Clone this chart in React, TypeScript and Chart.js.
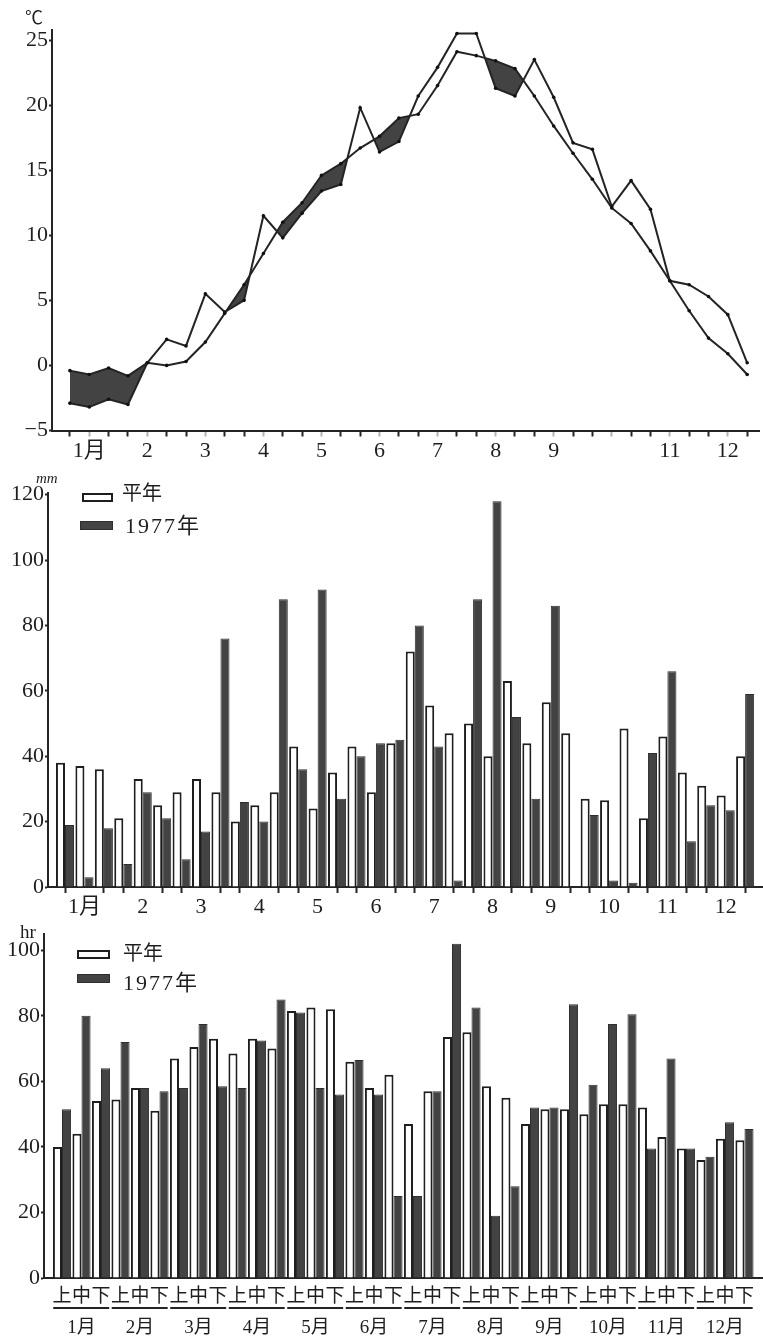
import React, { useEffect, useRef } from 'react';
import { Chart, registerables } from 'chart.js';

Chart.register(...registerables);

const FONT = "'Liberation Serif', 'Noto Sans CJK JP', serif";
const INK = '#242424';
const DARK = '#434343';

// 36 dekads: 上旬・中旬・下旬 of each month
const dekadParts = ['上', '中', '下'];
const monthNames = ['1月', '2月', '3月', '4月', '5月', '6月', '7月', '8月', '9月', '10月', '11月', '12月'];
const dekadIdx = monthNames.flatMap((_, m) => dekadParts.map((__, d) => m * 3 + d));

// Top panel: mean temperature (℃)
const tempMonthLabels = ['1月', '2', '3', '4', '5', '6', '7', '8', '9', '', '11', '12'];
const tempTicks = [-5, 0, 5, 10, 15, 20, 25];
const tempNormal = [
  -0.4, -0.7, -0.2, -0.8, 0.2, 0.0, 0.3, 1.8, 4.0, 6.2, 8.6, 11.0,
  12.5, 14.6, 15.5, 16.7, 17.6, 19.0, 19.3, 21.5, 24.1, 23.8, 23.4, 22.8,
  20.7, 18.4, 16.3, 14.3, 12.1, 10.9, 8.8, 6.5, 4.2, 2.1, 0.9, -0.7,
];
const temp1977 = [
  -2.9, -3.2, -2.6, -3.0, 0.2, 2.0, 1.5, 5.5, 4.1, 5.0, 11.5, 9.8,
  11.7, 13.4, 13.9, 19.8, 16.4, 17.2, 20.7, 22.9, 25.5, 25.5, 21.3, 20.7,
  23.5, 20.6, 17.1, 16.6, 12.2, 14.2, 12.0, 6.5, 6.2, 5.3, 3.9, 0.2,
];

// Middle panel: precipitation (mm)
const precipMonthLabels = ['1月', '2', '3', '4', '5', '6', '7', '8', '9', '10', '11', '12'];
const precipTicks = [0, 20, 40, 60, 80, 100, 120];
const precipNormal = [
  38, 37, 36, 21, 33, 25, 29, 33, 29, 20, 25, 29,
  43, 24, 35, 43, 29, 44, 72, 55.5, 47, 50, 40, 63,
  44, 56.5, 47, 27, 26.5, 48.5, 21, 46, 35, 31, 28, 40,
];
const precip1977 = [
  19, 3, 18, 7, 29, 21, 8.5, 17, 76, 26, 20, 88,
  36, 91, 27, 40, 44, 45, 80, 43, 2, 88, 118, 52,
  27, 86, 0, 22, 2, 1.3, 41, 66, 14, 25, 23.5, 59,
];

// Bottom panel: sunshine duration (hr)
const sunTicks = [0, 20, 40, 60, 80, 100];
const sunNormal = [
  40, 44, 54, 54.5, 58, 51, 67, 70.5, 73, 68.5, 73, 70,
  81.5, 82.5, 82, 66, 58, 62, 47, 57, 73.5, 75, 58.5, 55,
  47, 51.5, 51.5, 50, 53, 53, 52, 43, 39.5, 36, 42.5, 42,
];
const sun1977 = [
  51.5, 80, 64, 72, 58, 57, 58, 77.5, 58.5, 58, 72.5, 85,
  81, 58, 56, 66.5, 56, 25, 25, 57, 102, 82.5, 19, 28,
  52, 52, 83.5, 59, 77.5, 80.5, 39.5, 67, 39.5, 37, 47.5, 45.5,
];

const seriesNames = ['平年', '1977年'];

const toXY = (arr: number[]) => arr.map((v, i) => ({ x: dekadIdx[i], y: v }));

const setTicks = (vals: number[]) => (scale: any) => {
  scale.ticks = vals.map((v) => ({ value: v }));
};

const yAxis = (min: number, max: number, ticks: number[], width: number, fmt?: (v: number) => string) => ({
  type: 'linear' as const,
  min,
  max,
  afterBuildTicks: setTicks(ticks),
  afterFit: (s: any) => {
    s.width = width;
  },
  grid: { drawOnChartArea: false, drawTicks: true, tickLength: 3, tickWidth: 2, tickColor: INK },
  border: { display: true, color: INK, width: 2 },
  ticks: {
    padding: 1,
    color: '#1e1e1e',
    font: { family: FONT, size: 22 },
    callback: (v: any) => (fmt ? fmt(Number(v)) : String(v)),
  },
});

const barStyle = (i: number) =>
  i === 0
    ? {
        backgroundColor: '#ffffff',
        borderColor: '#1e1e1e',
        borderWidth: { top: 2, left: 2, right: 2, bottom: 0 },
        borderSkipped: 'start' as const,
      }
    : { backgroundColor: DARK, borderColor: '#2e2e2e', borderWidth: 1 };

function TempChart() {
  const ref = useRef<HTMLCanvasElement>(null);
  useEffect(() => {
    const chart = new Chart(ref.current as HTMLCanvasElement, {
      type: 'line',
      data: {
        datasets: [
          {
            label: seriesNames[0],
            data: toXY(tempNormal),
            borderColor: INK,
            borderWidth: 2,
            pointRadius: 1.8,
            pointBackgroundColor: '#111',
            pointBorderWidth: 0,
            fill: false,
            tension: 0,
          },
          {
            label: seriesNames[1],
            data: toXY(temp1977),
            borderColor: INK,
            borderWidth: 2,
            pointRadius: 1.8,
            pointBackgroundColor: '#111',
            pointBorderWidth: 0,
            tension: 0,
            fill: { target: '-1', above: 'rgba(0,0,0,0)', below: DARK },
          },
        ],
      },
      options: {
        responsive: false,
        animation: false,
        layout: { padding: { top: 30, left: 0, right: 0, bottom: 0 } },
        plugins: { legend: { display: false }, tooltip: { enabled: false } },
        scales: {
          x: {
            type: 'linear',
            min: -0.925,
            max: 35.61,
            afterBuildTicks: setTicks(dekadIdx),
            afterFit: (s: any) => {
              s.height = 39.5;
            },
            grid: {
              drawOnChartArea: false,
              drawTicks: true,
              tickLength: 6,
              tickWidth: 2,
              tickColor: (c: any) => (c.index % 3 === 1 ? 'rgba(40,40,40,0.35)' : INK),
            },
            border: { display: true, color: INK, width: 2 },
            ticks: {
              autoSkip: false,
              maxRotation: 0,
              padding: 2,
              color: '#1e1e1e',
              font: { family: FONT, size: 22 },
              callback: (_v: any, i: number) => (i % 3 === 1 ? tempMonthLabels[(i - 1) / 3] : ''),
            },
          },
          y: yAxis(-5, 25.77, tempTicks, 52, (v) => (v < 0 ? '−' + Math.abs(v) : String(v))),
        },
      },
    } as any);
    return () => chart.destroy();
  }, []);
  return <canvas ref={ref} width={763} height={470} style={{ position: 'absolute', left: 0, top: 0 }} />;
}

function PrecipChart() {
  const ref = useRef<HTMLCanvasElement>(null);
  useEffect(() => {
    const chart = new Chart(ref.current as HTMLCanvasElement, {
      type: 'bar',
      data: {
        datasets: [
          { label: seriesNames[0], data: toXY(precipNormal), ...barStyle(0), categoryPercentage: 0.93, barPercentage: 1 },
          { label: seriesNames[1], data: toXY(precip1977), ...barStyle(1), categoryPercentage: 0.93, barPercentage: 1 },
        ],
      },
      options: {
        responsive: false,
        animation: false,
        layout: { padding: { top: 23, left: 0, right: 0, bottom: 0 } },
        plugins: { legend: { display: false }, tooltip: { enabled: false } },
        scales: {
          x: {
            type: 'linear',
            offset: false,
            min: -0.875,
            max: 35.92,
            afterBuildTicks: setTicks(dekadIdx),
            afterFit: (s: any) => {
              s.height = 33;
            },
            grid: {
              offset: false,
              drawOnChartArea: false,
              drawTicks: true,
              tickLength: 6,
              tickWidth: 2,
              tickColor: (c: any) => (c.index % 3 === 1 ? 'rgba(0,0,0,0)' : INK),
            },
            border: { display: true, color: INK, width: 2 },
            ticks: {
              autoSkip: false,
              maxRotation: 0,
              padding: 1,
              color: '#1e1e1e',
              font: { family: FONT, size: 22 },
              callback: (_v: any, i: number) => (i % 3 === 1 ? precipMonthLabels[(i - 1) / 3] : ''),
            },
          },
          y: yAxis(0, 120.5, precipTicks, 48),
        },
      },
    } as any);
    return () => chart.destroy();
  }, []);
  return <canvas ref={ref} width={763} height={450} style={{ position: 'absolute', left: 0, top: 470 }} />;
}

const monthUnderline = {
  id: 'monthUnderline',
  afterDraw(chart: any) {
    const xs = chart.scales.x;
    const ctx = chart.ctx;
    const y = xs.top + 30;
    ctx.save();
    ctx.strokeStyle = INK;
    ctx.lineWidth = 2;
    monthNames.forEach((_, m) => {
      const a = xs.getPixelForValue(dekadIdx[m * 3] - 0.45);
      const b = xs.getPixelForValue(dekadIdx[m * 3 + 2] + 0.42);
      ctx.beginPath();
      ctx.moveTo(a, y);
      ctx.lineTo(b, y);
      ctx.stroke();
    });
    ctx.restore();
  },
};

function SunChart() {
  const ref = useRef<HTMLCanvasElement>(null);
  useEffect(() => {
    const chart = new Chart(ref.current as HTMLCanvasElement, {
      type: 'bar',
      data: {
        datasets: [
          { label: seriesNames[0], data: toXY(sunNormal), ...barStyle(0), categoryPercentage: 0.93, barPercentage: 1 },
          { label: seriesNames[1], data: toXY(sun1977), ...barStyle(1), categoryPercentage: 0.93, barPercentage: 1 },
        ],
      },
      options: {
        responsive: false,
        animation: false,
        layout: { padding: { top: 13, left: 0, right: 0, bottom: 0 } },
        plugins: { legend: { display: false }, tooltip: { enabled: false } },
        scales: {
          x: {
            type: 'linear',
            offset: false,
            min: -0.923,
            max: 35.95,
            afterBuildTicks: setTicks(dekadIdx),
            afterFit: (s: any) => {
              s.height = 58;
            },
            grid: { offset: false, drawOnChartArea: false, drawTicks: false },
            border: { display: true, color: INK, width: 2 },
            ticks: {
              autoSkip: false,
              maxRotation: 0,
              padding: 4,
              color: '#1e1e1e',
              font: { family: FONT, size: 19, lineHeight: 1.6 },
              callback: (_v: any, i: number) =>
                i % 3 === 1 ? [dekadParts[1], monthNames[(i - 1) / 3]] : dekadParts[i % 3],
            },
          },
          y: yAxis(0, 104.9, sunTicks, 44),
        },
      },
      plugins: [monthUnderline],
    } as any);
    return () => chart.destroy();
  }, []);
  return <canvas ref={ref} width={763} height={416} style={{ position: 'absolute', left: 0, top: 920 }} />;
}

const txt = (left: number, top: number, size: number, extra: React.CSSProperties = {}): React.CSSProperties => ({
  position: 'absolute',
  left,
  top,
  fontSize: size,
  lineHeight: 1,
  fontFamily: FONT,
  color: '#1e1e1e',
  whiteSpace: 'nowrap',
  ...extra,
});

const box = (left: number, top: number, w: number, h: number, dark: boolean): React.CSSProperties => ({
  position: 'absolute',
  left,
  top,
  width: w,
  height: h,
  boxSizing: 'border-box',
  background: dark ? DARK : '#fff',
  border: dark ? '1px solid #2e2e2e' : '2px solid #1e1e1e',
});

export default function App() {
  return (
    <div style={{ position: 'absolute', left: 0, top: 0, width: 763, height: 1336, background: '#fff', overflow: 'hidden' }}>
      <TempChart />
      <PrecipChart />
      <SunChart />
      <span style={txt(25, 9, 18)}>℃</span>

      <span style={txt(36, 471, 15, { fontStyle: 'italic' })}>mm</span>
      <div style={box(82, 493, 31, 9, false)} />
      <span style={txt(122, 483, 20)}>{seriesNames[0]}</span>
      <div style={box(80, 521, 33, 9, true)} />
      <span style={txt(125, 515, 22, { letterSpacing: 2 })}>{seriesNames[1]}</span>

      <span style={txt(20, 922, 19)}>hr</span>
      <div style={box(77, 950, 33, 9, false)} />
      <span style={txt(123, 943, 20)}>{seriesNames[0]}</span>
      <div style={box(77, 974, 33, 9, true)} />
      <span style={txt(123, 972, 22, { letterSpacing: 2 })}>{seriesNames[1]}</span>
    </div>
  );
}
